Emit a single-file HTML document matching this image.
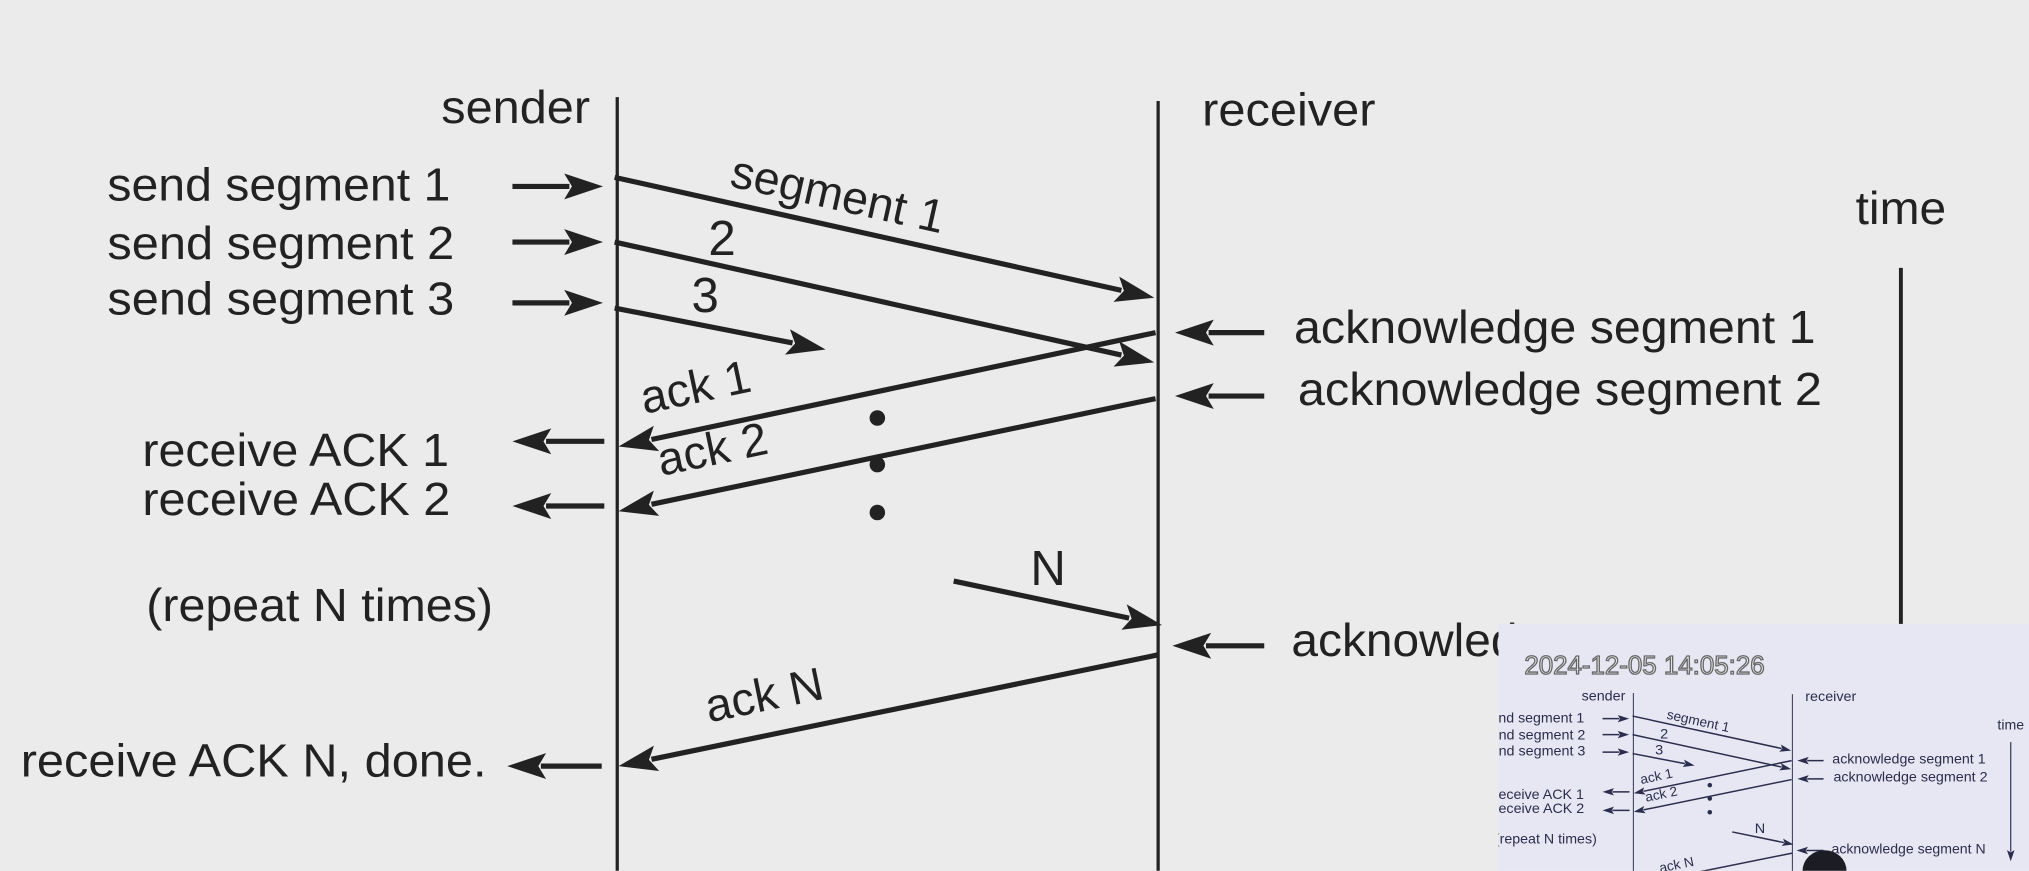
<!DOCTYPE html>
<html><head><meta charset="utf-8"><style>
html,body{margin:0;padding:0;background:#ebebeb;overflow:hidden;width:2029px;height:871px}
svg{display:block}
text{font-family:"Liberation Sans",sans-serif}
</style></head><body>
<svg id="s" width="2029" height="871" viewBox="0 0 1568 673">
<defs><clipPath id="ic"><rect x="1158" y="482" width="410" height="191"/></clipPath>
<clipPath id="mc"><rect x="0" y="0" width="1568" height="673"/></clipPath></defs>
<rect width="1568" height="673" fill="#ebebeb"/>
<g id="main" clip-path="url(#mc)"></g>
<g clip-path="url(#ic)">
<rect x="1158" y="482" width="410" height="191" fill="#e6e7f3"/>
<g id="inset" transform="translate(1122,514) scale(0.294,0.287)"></g>
<text x="1178" y="521" font-size="20" fill="#e8e8e8" stroke="#666" stroke-width="1" font-family="Liberation Mono">2024-12-05 14:05:26</text>
<path d="M1393,673 A17,16 0 0 1 1427,673 Z" fill="#1c1c24"/>
</g>
</svg>
<script>
const NS="http://www.w3.org/2000/svg";
// messages: [x1,y1,x2,y2,label,labelX,labelY]
const msgs=[[475,137,892,230,"segment 1",645,162],[475,187,892,280,"2",558,197],[475,238,638,270,"3",545,241],[893,257,478,345,"ack 1",540,311],[893,308,478,395,"ack 2",553,359],[737,449,898,483,"N",810,452],[895,506,478,592,"ack N",593,549]];
const leftLabels=[["send segment 1",83,155,265],["send segment 2",83,200,268],["send segment 3",83,243,268],["receive ACK 1",110,360,237],["receive ACK 2",110,398,238],["(repeat N times)",113,480,268],["receive ACK N, done.",16,600,360]];
const leftArrows=[[396,144,466,144],[396,187,466,187],[396,234,466,234],[467,341,396,341],[467,391,396,391],[465,592,392,592]];
const rightLabels=[["acknowledge segment 1",1000,265,403],["acknowledge segment 2",1003,313,405],["acknowledge segment N",998,507,405]];
const rightArrows=[[977,257,908,257],[977,306,908,306],[977,499,906,499]];
const dots=[323,359,396];
function el(p,t,a){const e=document.createElementNS(NS,t);for(const k in a)e.setAttribute(k,a[k]);p.appendChild(e);return e;}
function arrow(g,x1,y1,x2,y2,c,w){
 const dx=x2-x1,dy=y2-y1,L=Math.hypot(dx,dy),ux=dx/L,uy=dy/L,h=30,hw=10;
 const bx=x2-ux*h,by=y2-uy*h;
 const ln=el(g,"line",{x1:x1,y1:y1,x2:bx+ux*4,y2:by+uy*4,stroke:c,"stroke-width":w});
 
 
 const pg=el(g,"polygon",{points:`${x2},${y2} ${bx-uy*hw},${by+ux*hw} ${bx+ux*6},${by+uy*6} ${bx+uy*hw},${by-ux*hw}`,fill:c});
 
 
}
function txt(g,s,x,y,c,opt){const t=el(g,"text",Object.assign({x:x,y:y,fill:c,"font-size":36},opt||{}));t.textContent=s;
 
 return t;}
function draw(g,c,maxY){
 const l1=el(g,"line",{x1:477,y1:75,x2:477,y2:maxY,stroke:c,"stroke-width":2.5});
 
 
 const l2=el(g,"line",{x1:895,y1:78,x2:895,y2:maxY,stroke:c,"stroke-width":2.5});
 
 
 txt(g,"sender",456,95,c,{"text-anchor":"end",textLength:115,lengthAdjust:"spacingAndGlyphs"});
 txt(g,"receiver",929,97,c,{textLength:134,lengthAdjust:"spacingAndGlyphs"});
 txt(g,"time",1434,173,c,{textLength:70,lengthAdjust:"spacingAndGlyphs"});
 arrow(g,1469,207,1469,528,c,3);
 for(const m of msgs){
  if(m[1]>maxY-20)continue;
  arrow(g,m[0],m[1],m[2],m[3],c,4);
  let a=Math.atan2(m[3]-m[1],m[2]-m[0])*180/Math.PI; if(a>90)a-=180; if(a<-90)a+=180;
  if(m[4].length===1)a=0;
  txt(g,m[4],m[5],m[6],c,{"text-anchor":"middle","font-size":m[4].length>1?36:38,transform:`rotate(${a} ${m[5]} ${m[6]})`});
 }
 for(const l of leftLabels){if(l[2]>maxY+30)continue;txt(g,l[0],l[1],l[2],c,{textLength:l[3],lengthAdjust:"spacingAndGlyphs"});}
 for(const a of leftArrows){if(a[1]>maxY)continue;arrow(g,a[0],a[1],a[2],a[3],c,4);}
 for(const l of rightLabels)txt(g,l[0],l[1],l[2],c,{textLength:l[3],lengthAdjust:"spacingAndGlyphs"});
 for(const a of rightArrows)arrow(g,a[0],a[1],a[2],a[3],c,4);
 for(const d of dots){const e=el(g,"circle",{cx:678,cy:d,r:6,fill:c});
  
  }
}
draw(document.getElementById("main"),"#222",673);
draw(document.getElementById("inset"),"#2a2d4c",555);
document.getElementById("main");
document.getElementById("inset");
</script>
</body></html>
